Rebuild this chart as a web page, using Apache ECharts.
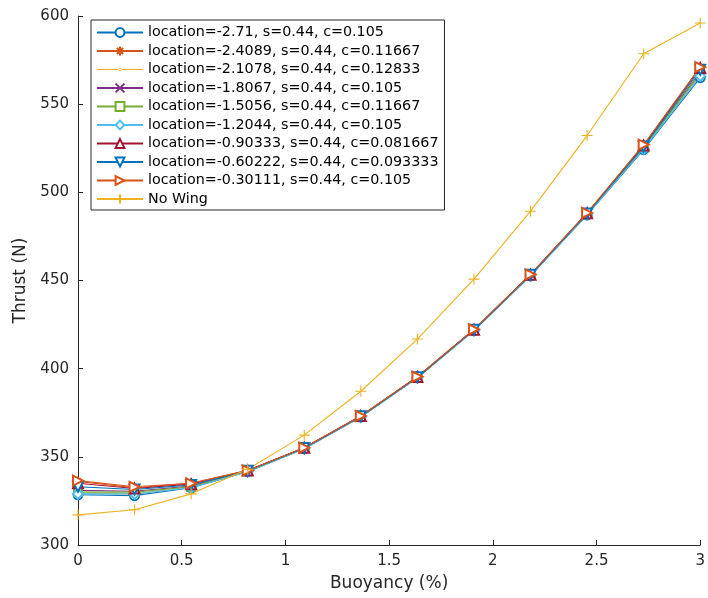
<!DOCTYPE html>
<html><head><meta charset="utf-8">
<script src="https://cdn.jsdelivr.net/npm/echarts@6/dist/echarts.min.js"></script>
<style>html,body{margin:0;padding:0;background:#fff}#c{width:708px;height:598px}</style>
</head><body><div id="c"></div>
<script>
const buoyancy = [0, 0.27273, 0.54545, 0.81818, 1.0909, 1.3636, 1.6364, 1.9091, 2.1818, 2.4545, 2.7273, 3];
const seriesNames = [
  'location=-2.71, s=0.44, c=0.105',
  'location=-2.4089, s=0.44, c=0.11667',
  'location=-2.1078, s=0.44, c=0.12833',
  'location=-1.8067, s=0.44, c=0.105',
  'location=-1.5056, s=0.44, c=0.11667',
  'location=-1.2044, s=0.44, c=0.105',
  'location=-0.90333, s=0.44, c=0.081667',
  'location=-0.60222, s=0.44, c=0.093333',
  'location=-0.30111, s=0.44, c=0.105',
  'No Wing'
];
const thrust1 = [328.5, 328.0, 332.5, 341.6, 354.6, 372.6, 394.8, 421.6, 452.6, 487.2, 524.2, 565.0];
const thrust2 = [336.0, 332.5, 335.0, 342.2, 355.2, 373.2, 395.4, 422.2, 453.4, 488.2, 526.8, 571.0];
const thrust3 = [329.5, 329.0, 333.0, 341.8, 354.8, 372.8, 395.0, 421.8, 453.0, 487.6, 525.0, 566.5];
const thrust4 = [331.0, 330.5, 333.5, 342.0, 355.0, 373.0, 395.2, 422.0, 453.2, 487.9, 525.6, 568.0];
const thrust5 = [330.0, 330.0, 333.0, 341.9, 354.9, 372.9, 395.1, 421.9, 453.1, 487.8, 525.4, 567.5];
const thrust6 = [329.0, 329.0, 332.5, 341.7, 354.7, 372.7, 394.9, 421.7, 452.8, 487.4, 524.6, 566.0];
const thrust7 = [335.0, 332.0, 334.5, 342.2, 355.1, 373.1, 395.3, 422.1, 453.3, 488.1, 526.5, 570.5];
const thrust8 = [333.0, 331.5, 334.0, 342.1, 355.0, 373.0, 395.2, 422.0, 453.2, 488.0, 526.0, 569.5];
const thrust9 = [336.5, 333.0, 335.0, 342.3, 355.2, 373.2, 395.5, 422.3, 453.5, 488.3, 527.0, 571.0];
const thrustNoWing = [317.1, 320.0, 329.0, 343.0, 362.3, 387.2, 416.8, 450.8, 489.3, 532.2, 578.6, 596.0];
const allThrust = [thrust1, thrust2, thrust3, thrust4, thrust5, thrust6, thrust7, thrust8, thrust9, thrustNoWing];

const colors = ['#0072BD','#D95319','#EDB120','#7E2F8E','#77AC30','#4DBEEE','#A2142F','#0072BD','#D95319','#EDB120'];
const asterisk = 'path://M5,0L5,10M0,5L10,5M1.5,1.5L8.5,8.5M8.5,1.5L1.5,8.5';
const cross = 'path://M0,0L10,10M10,0L0,10';
const plus = 'path://M5,0L5,10M0,5L10,5';
const dotLegend = 'path://M0,0M46,11M0,5L46,5L46,6L0,6Z M21.5,5.5a1.6,1.6 0 1,0 3.2,0a1.6,1.6 0 1,0 -3.2,0Z';
const markers = [
  {symbol:'emptyCircle', size:9},
  {symbol:asterisk, size:9, stroke:true},
  {symbol:'circle', size:3},
  {symbol:cross, size:7, stroke:true},
  {symbol:'emptyRect', size:8},
  {symbol:'emptyDiamond', size:10},
  {symbol:'emptyTriangle', size:10},
  {symbol:'emptyTriangle', size:10, rotate:180},
  {symbol:'emptyTriangle', size:10, rotate:-90},
  {symbol:plus, size:11, stroke:true}
];

const series = allThrust.map((vals, i) => {
  const m = markers[i];
  return {
    name: seriesNames[i],
    type: 'line',
    data: vals.map((v, j) => [buoyancy[j], v]),
    symbol: m.symbol,
    symbolSize: m.size,
    symbolRotate: m.rotate || 0,
    showAllSymbol: true,
    animation: false,
    lineStyle: {color: colors[i], width: 1.1},
    itemStyle: m.stroke ? {color: colors[i], borderColor: colors[i], borderWidth: 1.1} : {color: colors[i], borderWidth: 1.1},
    emphasis: {disabled: true}
  };
});

const legendData = seriesNames.map((n, i) => i === 2 ? {name: n, icon: dotLegend, itemStyle: {borderWidth: 0}} : n);

const chart = echarts.init(document.getElementById('c'), null, {renderer:'canvas'});
chart.setOption({
  animation: false,
  backgroundColor: '#fff',
  textStyle: {fontFamily: 'DejaVu Sans'},
  grid: {left: 78, right: 2, top: 16, bottom: 53},
  legend: {
    orient: 'vertical', left: 91, top: 20,
    data: legendData,
    itemWidth: 46, itemHeight: 11, itemGap: 4.5,
    padding: [5.5, 6, 4, 5],
    borderColor: '#262626', borderWidth: 1, backgroundColor: '#fff',
    textStyle: {fontSize: 14.3, color: '#000', fontFamily: 'DejaVu Sans'},
    selectedMode: false
  },
  xAxis: {
    type: 'value', min: 0, max: 3, interval: 0.5,
    name: 'Buoyancy (%)', nameLocation: 'middle', nameGap: 30,
    nameTextStyle: {fontSize: 17, color: '#262626'},
    axisLine: {show: true, onZero: false, lineStyle: {color: '#262626', width: 1}},
    axisTick: {show: true, inside: true, length: 5, lineStyle: {color: '#262626'}},
    axisLabel: {fontSize: 15, color: '#262626', margin: 9},
    splitLine: {show: false}
  },
  yAxis: {
    type: 'value', min: 300, max: 600, interval: 50,
    name: 'Thrust (N)', nameLocation: 'middle', nameGap: 45,
    nameTextStyle: {fontSize: 17, color: '#262626'},
    axisLine: {show: true, lineStyle: {color: '#262626', width: 1}},
    axisTick: {show: true, inside: true, length: 5, lineStyle: {color: '#262626'}},
    axisLabel: {fontSize: 15, color: '#262626', margin: 9},
    splitLine: {show: false}
  },
  series: series
});
</script></body></html>
